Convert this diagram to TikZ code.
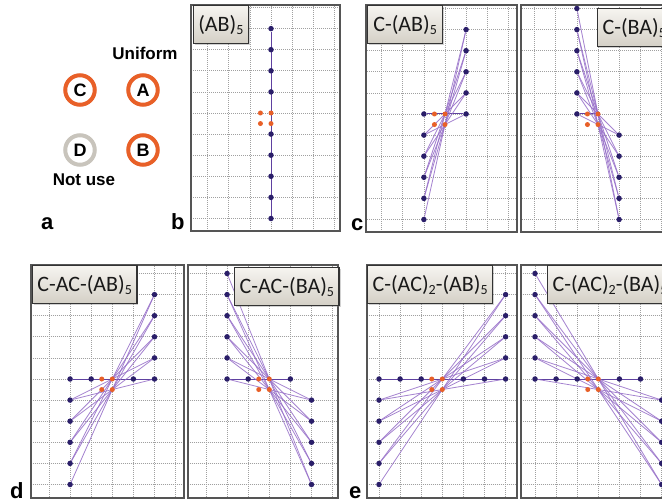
\documentclass[tikz,border=0pt]{standalone}
\usepackage{fontspec}
\setmainfont{Carlito}
\newfontfamily\arialfont{Liberation Sans}
\usetikzlibrary{shadows}
\pgfdeclarelayer{back}
\pgfdeclarelayer{mid}
\pgfsetlayers{back,mid,main}
\definecolor{dotblue}{RGB}{42,30,105}
\definecolor{dotorange}{RGB}{232,96,40}
\definecolor{zigc}{RGB}{150,110,200}
\definecolor{hlc}{RGB}{95,65,160}
\definecolor{gridc}{RGB}{160,160,160}
\definecolor{framec}{RGB}{85,85,85}
\definecolor{ringgray}{RGB}{200,196,188}
\definecolor{lbtop}{RGB}{246,244,240}
\definecolor{lbbot}{RGB}{212,208,198}
\newcommand{\lsub}[1]{\raisebox{-3pt}{\fontsize{14}{14}\selectfont #1}}
\tikzset{
  bdot/.style={circle, fill=dotblue, inner sep=0pt, minimum size=5.5pt},
  odot/.style={circle, fill=dotorange, inner sep=0pt, minimum size=5pt},
  zline/.style={draw=zigc, line width=0.8pt, opacity=0.85},
  hline/.style={draw=hlc, line width=1pt},
  gridline/.style={draw=gridc, line width=0.7pt, dash pattern=on 1pt off 1pt},
  panelbox/.style={draw=framec, line width=1.3pt, fill=white,
     drop shadow={shadow xshift=1.2pt, shadow yshift=-1.2pt, opacity=0.3}},
  labelbox/.style={draw=black!80, line width=1.2pt, top color=lbtop, bottom color=lbbot,
     drop shadow={shadow xshift=1.5pt, shadow yshift=-1.5pt, opacity=0.35},
     inner xsep=5pt, inner ysep=0pt, minimum height=38pt, anchor=north west,
     text=black!90, font=\fontsize{22}{22}\selectfont},
  ring/.style={circle, draw=dotorange, line width=4pt, minimum size=29.5pt, inner sep=0pt,
     font=\arialfont\bfseries\fontsize{18}{18}\selectfont},
  letter/.style={font=\arialfont\bfseries\fontsize{22}{22}\selectfont, inner sep=0pt, anchor=base west},
  caption/.style={font=\arialfont\bfseries\fontsize{17}{17}\selectfont, inner sep=0pt, anchor=base}
}
% frame with grid: x1 y1 x2 y2 ox oy
\newcommand{\panelframe}[6]{%
  \begin{pgfonlayer}{back}
    \path[panelbox] (#1,#2) rectangle (#3,#4);
    \begin{scope}
      \clip (#1,#2) rectangle (#3,#4);
      \begin{scope}[shift={(#5,#6)}, x=21.1pt, y=21.1pt]
        \foreach \i in {-7,...,7} {
          \draw[gridline] (\i,-7) -- (\i,7);
          \draw[gridline] (-7,\i) -- (7,\i);
        }
      \end{scope}
    \end{scope}
    \draw[framec, line width=1.3pt] (#1,#2) rectangle (#3,#4);
  \end{pgfonlayer}}
\newcommand{\orangeset}[1]{%
  \node[odot] (#1o1) at (0,0) {};
  \node[odot] (#1o2) at (-0.5,0) {};
  \node[odot] (#1o3) at (-0.5,-0.5) {};
  \node[odot] (#1o4) at (0,-0.5) {};}
\newcommand{\middots}[2]{%
  \ifnum#2>1
    \pgfmathtruncatemacro\mmax{#2-1}%
    \foreach \i in {1,...,\mmax} {
      \node[bdot] (#1m\i) at (-\i,0) {};
      \node[bdot] (#1p\i) at (\i,0) {};
    }
  \fi}
% prefix, s, ox, oy
\newcommand{\ABpanel}[4]{%
  \begin{scope}[shift={(#3,#4)}, x=21.1pt, y=21.1pt]
    \middots{#1}{#2}
    \orangeset{#1}
    \foreach \j in {0,...,5} \node[bdot] (#1L\j) at (-#2,-\j) {};
    \foreach \k in {0,...,4} \node[bdot] (#1R\k) at (#2,\k) {};
    \begin{pgfonlayer}{mid}
      \draw[hline] (#1L0) -- (#1R0);
      \foreach \k [evaluate=\k as \n using int(\k+1)] in {0,...,4}
        \draw[zline] (#1R\k) -- (#1L\n);
      \foreach \k in {1,...,4}
        \draw[zline] (#1L\k) -- (#1R\k);
    \end{pgfonlayer}
  \end{scope}}
\newcommand{\BApanel}[4]{%
  \begin{scope}[shift={(#3,#4)}, x=21.1pt, y=21.1pt]
    \middots{#1}{#2}
    \orangeset{#1}
    \foreach \k in {0,...,5} \node[bdot] (#1L\k) at (-#2,\k) {};
    \foreach \j in {1,...,5} \node[bdot] (#1R\j) at (#2,-\j) {};
    \coordinate (#1end) at (#2-1,0);
    \begin{pgfonlayer}{mid}
      \draw[hline] (#1L0) -- (#1end);
      \foreach \k [evaluate=\k as \n using int(\k+1)] in {0,...,4}
        \draw[zline] (#1L\k) -- (#1R\n);
      \foreach \k in {1,...,5}
        \draw[zline] (#1R\k) -- (#1L\k);
    \end{pgfonlayer}
  \end{scope}}
\begin{document}
\begin{tikzpicture}[x=1pt,y=-1pt]
\useasboundingbox (0,0) rectangle (662,503);
\clip (0,0) rectangle (662,503);
\begin{pgfonlayer}{back}
  \fill[white] (0,0) rectangle (662,503);
\end{pgfonlayer}

% ---- panel a ----
\node[ring] (C) at (80,90) {C};
\node[ring] (A) at (143,90) {A};
\node[ring, draw=ringgray] (D) at (80,150) {D};
\node[ring] (B) at (143,150) {B};
\node[caption] (uni) at (145,60) {Uniform};
\node[caption] (notuse) at (84,185) {Not use};

% ---- frames ----
\panelframe{191}{5}{340}{231}{271}{113}
\panelframe{366}{5}{517}{232}{445}{114}
\panelframe{521}{5}{700}{232}{598}{114}
\panelframe{31}{265}{184}{498}{112.3}{379}
\panelframe{188}{265}{338}{498}{269.3}{379}
\panelframe{367}{265}{517}{498}{442.3}{379}
\panelframe{521}{265}{700}{498}{598.3}{379}

% ---- panel b ----
\begin{scope}[shift={(271,113)}, x=21.1pt, y=21.1pt]
  \orangeset{b}
  \foreach \k in {1,...,4} \node[bdot] (bU\k) at (0,\k) {};
  \foreach \k in {1,...,5} \node[bdot] (bD\k) at (0,-\k) {};
  \begin{pgfonlayer}{mid}
    \draw[hline] (bU4) -- (bD5);
  \end{pgfonlayer}
\end{scope}

% ---- panels c, d, e ----
\ABpanel{cl}{1}{445}{114}
\BApanel{cr}{1}{598}{114}
\ABpanel{dl}{2}{112.3}{379}
\BApanel{dr}{2}{269.3}{379}
\ABpanel{el}{3}{442.3}{379}
\BApanel{er}{3}{598.3}{379}

% ---- label boxes ----
\node[labelbox, minimum width=52.3pt] (lbb) at (192.7,5) {(AB)\lsub{5}};
\node[labelbox, minimum width=75pt] (lbcl) at (367,5) {C-(AB)\lsub{5}};
\node[labelbox, text width=90pt, align=left] (lbcr) at (597,8) {C-(BA)\lsub{5}};
\node[labelbox, minimum width=103.3pt] (lbdl) at (31.7,265) {C-AC-(AB)\lsub{5}};
\node[labelbox, minimum width=104pt] (lbdr) at (234,267) {C-AC-(BA)\lsub{5}};
\node[labelbox, minimum width=123pt] (lbel) at (367,265) {C-(AC)\lsub{2}-(AB)\lsub{5}};
\node[labelbox, text width=140pt, align=left] (lber) at (547,265) {C-(AC)\lsub{2}-(BA)\lsub{5}};

% ---- panel letters ----
\node[letter] (la) at (41,229) {a};
\node[letter] (lb) at (171,229) {b};
\node[letter] (lc) at (351,230) {c};
\node[letter] (ld) at (10,498) {d};
\node[letter] (le) at (349,498) {e};
\end{tikzpicture}
\end{document}
